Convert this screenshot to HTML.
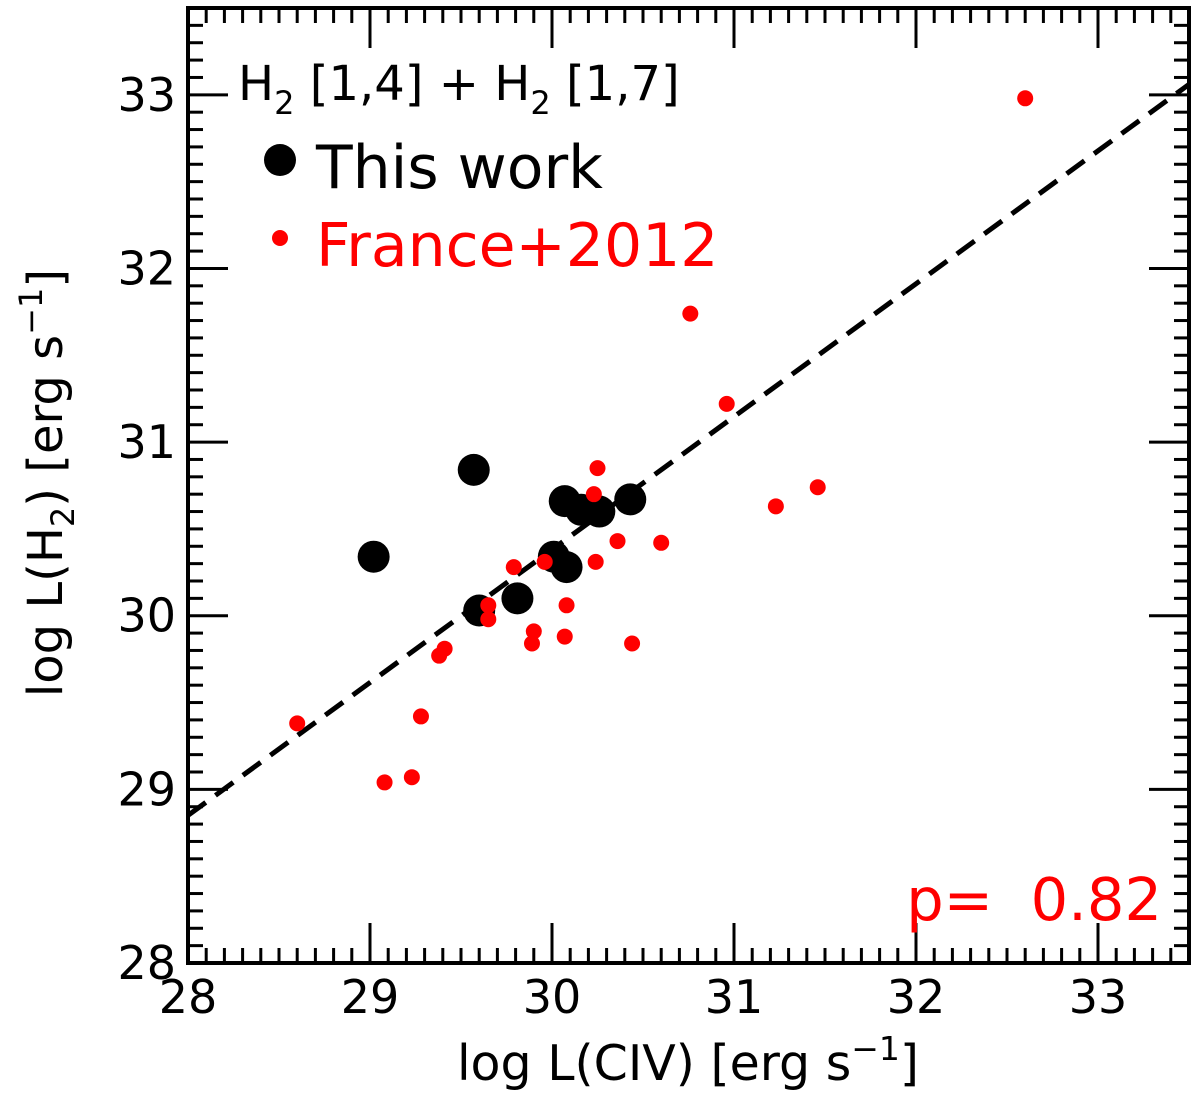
<!DOCTYPE html>
<html><head><meta charset="utf-8"><style>
body{margin:0;background:#fff}
svg text{font-family:"DejaVu Sans","Liberation Sans",sans-serif}
</style></head><body>
<svg id="chart" width="1200" height="1097" viewBox="0 0 1200 1097">
<g id="ticks"></g>
<g id="fit"></g>
<g id="marks"></g>
<rect x="188" y="8" width="1001" height="955" fill="none" stroke="#000" stroke-width="4"/>
<g id="labels"></g>
<text x="238" y="100" font-size="48">H<tspan font-size="32" dy="14">2</tspan><tspan dy="-14"> [1,4] + H</tspan><tspan font-size="32" dy="14">2</tspan><tspan dy="-14"> [1,7]</tspan></text>
<circle cx="280" cy="160" r="16" fill="#000"/>
<text x="316" y="188" font-size="60">This work</text>
<circle cx="280" cy="238" r="8" fill="#f00"/>
<text x="316" y="266" font-size="60" fill="#f00">France+2012</text>
<text x="1162" y="920" font-size="59" fill="#f00" text-anchor="end" xml:space="preserve">p=  0.82</text>
<text x="688" y="1080" font-size="49" text-anchor="middle">log L(CIV) [erg s<tspan font-size="33" dy="-20">−1</tspan><tspan dy="20">]</tspan></text>
<text transform="translate(62,483) rotate(-90)" font-size="48" text-anchor="middle">log L(H<tspan font-size="32" dy="12">2</tspan><tspan dy="-12">) [erg s</tspan><tspan font-size="32" dy="-20">−1</tspan><tspan dy="20">]</tspan></text>
</svg>
<script>
const xTicks=[28,29,30,31,32,33];
const yTicks=[28,29,30,31,32,33];
const blackX=[29.02,29.57,29.60,29.81,30.01,30.07,30.08,30.16,30.26,30.43];
const blackY=[30.34,30.84,30.03,30.10,30.34,30.66,30.28,30.61,30.60,30.67];
const redX=[32.60,30.76,30.96,30.25,30.23,31.23,31.46,30.36,30.60,30.24,29.79,29.96,30.08,29.65,29.65,29.90,29.89,30.07,30.44,29.41,29.38,28.60,29.28,29.08,29.23];
const redY=[32.98,31.74,31.22,30.85,30.70,30.63,30.74,30.43,30.42,30.31,30.28,30.31,30.06,30.06,29.98,29.91,29.84,29.88,29.84,29.81,29.77,29.38,29.42,29.04,29.07];
const fitX=[28,33.5];
const fitY=[28.85,33.06];
const X0=188,X1=1189,Y0=963,Y1=8,XMIN=28,XMAX=33.5,YMIN=28,YMAX=33.5;
const sx=v=>X0+(v-XMIN)/(XMAX-XMIN)*(X1-X0);
const sy=v=>Y0-(v-YMIN)/(YMAX-YMIN)*(Y0-Y1);
const NS='http://www.w3.org/2000/svg';
function mk(tag,attrs,parent){const e=document.createElementNS(NS,tag);for(const k in attrs)e.setAttribute(k,attrs[k]);document.getElementById(parent).appendChild(e);return e;}
for(let i=0;i<=55;i++){
  const v=XMIN+i*0.1, x=sx(v), major=i%10===0, L=major?40:15;
  let t=mk('line',{x1:x,x2:x,y1:Y0,y2:Y0-L,stroke:'#000','stroke-width':3},'ticks');
  
  
  t=mk('line',{x1:x,x2:x,y1:Y1,y2:Y1+L,stroke:'#000','stroke-width':3},'ticks');
  
  
  const y=sy(YMIN+i*0.1);
  t=mk('line',{x1:X0,x2:X0+L,y1:y,y2:y,stroke:'#000','stroke-width':3},'ticks');
  
  
  t=mk('line',{x1:X1,x2:X1-L,y1:y,y2:y,stroke:'#000','stroke-width':3},'ticks');
  
  
}
xTicks.forEach(v=>{const t=mk('text',{x:sx(v),y:1013,'font-size':46,'text-anchor':'middle'},'labels');t.textContent=v;
  
  });
yTicks.forEach(v=>{const t=mk('text',{x:176,y:sy(v)+16,'font-size':46,'text-anchor':'end'},'labels');t.textContent=v;
  
  });
const fl=mk('line',{x1:sx(fitX[0]),y1:sy(fitY[0]),x2:sx(fitX[1]),y2:sy(fitY[1]),stroke:'#000','stroke-width':5,'stroke-dasharray':'22 12'},'fit');


blackX.forEach((v,i)=>{const c=mk('circle',{cx:sx(v),cy:sy(blackY[i]),r:16,fill:'#000'},'marks');
  
  });
redX.forEach((v,i)=>{const c=mk('circle',{cx:sx(v),cy:sy(redY[i]),r:8,fill:'#f00'},'marks');
  
  });
</script>
</body></html>
